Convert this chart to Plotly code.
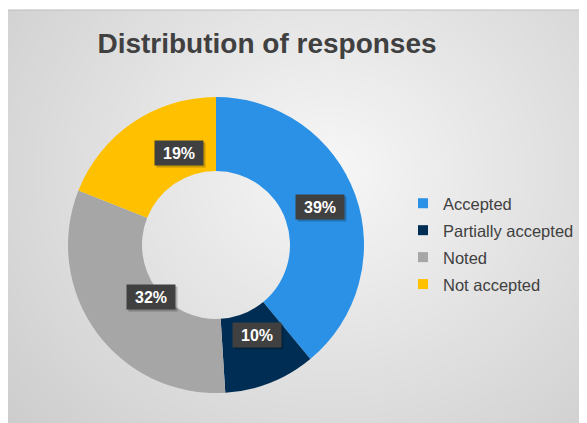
import base64
import struct
import zlib

import numpy as np
import plotly.graph_objects as go

# ---------------- data ----------------
categories = ["Accepted", "Partially accepted", "Noted", "Not accepted"]
values = [39, 10, 32, 19]
colors = ["#2B91E6", "#002D53", "#A6A6A6", "#FFC000"]
title_text = "Distribution of responses"

# ---------------- geometry / style ----------------
OFF = 8                      # page body margin
W, H = 587 - OFF, 423 - OFF  # figure size
BOX_X0, BOX_Y0 = 0, 2        # chart-area box (figure pixels)
CX, CY, R = 216 - OFF, 245 - OFF, 148   # donut centre / radius (figure px)
HOLE = 0.5
FONT = "Liberation Sans, Arial, sans-serif"
TXT = "#404040"


def px2paper(x, y):
    return x / W, 1 - y / H


def png_gray(arr):
    h, w = arr.shape
    raw = b"".join(b"\x00" + arr[i].tobytes() for i in range(h))

    def chunk(tag, data):
        c = struct.pack(">I", len(data)) + tag + data
        return c + struct.pack(">I", zlib.crc32(tag + data) & 0xFFFFFFFF)

    ihdr = struct.pack(">IIBBBBB", w, h, 8, 0, 0, 0, 0)
    png = (b"\x89PNG\r\n\x1a\n" + chunk(b"IHDR", ihdr)
           + chunk(b"IDAT", zlib.compress(raw, 9)) + chunk(b"IEND", b""))
    return "data:image/png;base64," + base64.b64encode(png).decode()


# radial grey background gradient
bw, bh = W - BOX_X0, H - BOX_Y0
yy, xx = np.mgrid[0:bh, 0:bw].astype(float)
gx, gy = 322 - BOX_X0, 162 - BOX_Y0
t = np.sqrt(((xx - gx) / 348.0) ** 2 + ((yy - gy) / 310.0) ** 2)
shade = np.clip(247 - 34 * t, 190, 250).astype(np.uint8)
bg_src = png_gray(shade)

fig = go.Figure()

dx0, dy1 = px2paper(CX - R, CY - R)
dx1, dy0 = px2paper(CX + R, CY + R)
fig.add_trace(go.Pie(
    labels=categories,
    values=values,
    hole=HOLE,
    sort=False,
    direction="clockwise",
    rotation=0,
    marker=dict(colors=colors, line=dict(width=0)),
    textinfo="none",
    hoverinfo="label+percent",
    showlegend=False,
    domain=dict(x=[dx0, dx1], y=[dy0, dy1]),
))

# legend entries (square markers) via empty scatter traces
for name, col in zip(categories, colors):
    fig.add_trace(go.Scatter(
        x=[None], y=[None], mode="markers", name=name,
        legendgroup=name,
        marker=dict(symbol="square", size=10, color=col),
    ))

# percentage labels in dark boxes at the middle of each ring slice
total = float(sum(values))
annotations = []
cum = 0.0
r_mid = R * (1 + HOLE) / 2
for v in values:
    mid = (cum + v / 2) / total * 2 * np.pi
    cum += v
    px = CX + r_mid * np.sin(mid)
    py = CY - r_mid * np.cos(mid)
    label = f"{round(v / total * 100)}%"
    sx, sy = px2paper(px + 2, py + 2)
    annotations.append(dict(
        x=sx, y=sy, xref="paper", yref="paper",
        text="", showarrow=False, width=48, height=24,
        bgcolor="rgba(0,0,0,0.22)", borderpad=0,
    ))
    ax, ay = px2paper(px, py)
    annotations.append(dict(
        x=ax, y=ay, xref="paper", yref="paper",
        text=f"<b>{label}</b>", showarrow=False, width=48, height=24,
        bgcolor="#404040", borderpad=0,
        font=dict(family=FONT, size=16, color="white"),
    ))

tx, ty = px2paper(267 - OFF, 43 - OFF)
lx, ly = px2paper(403 - OFF, 244 - OFF)
ix, iy = px2paper(BOX_X0, BOX_Y0)
fig.update_layout(
    width=W, height=H,
    margin=dict(l=0, r=0, t=0, b=0),
    paper_bgcolor="white",
    plot_bgcolor="rgba(0,0,0,0)",
    xaxis=dict(visible=False),
    yaxis=dict(visible=False),
    title=dict(text=f"<b>{title_text}</b>", x=tx, xanchor="center",
               y=ty, yanchor="middle",
               font=dict(family=FONT, size=28, color=TXT)),
    legend=dict(x=lx, xanchor="left", y=ly, yanchor="middle",
                bgcolor="rgba(0,0,0,0)", tracegroupgap=2.5,
                font=dict(family=FONT, size=16.5, color=TXT)),
    images=[dict(source=bg_src, xref="paper", yref="paper",
                 x=ix, y=iy, sizex=bw / W, sizey=bh / H,
                 xanchor="left", yanchor="top", sizing="stretch", layer="below")],
    shapes=[dict(type="line", xref="paper", yref="paper",
                 x0=0, x1=1, y0=iy, y1=iy,
                 line=dict(color="#BDBDBD", width=1))],
    annotations=annotations,
)

fig.write_html("out.html")
